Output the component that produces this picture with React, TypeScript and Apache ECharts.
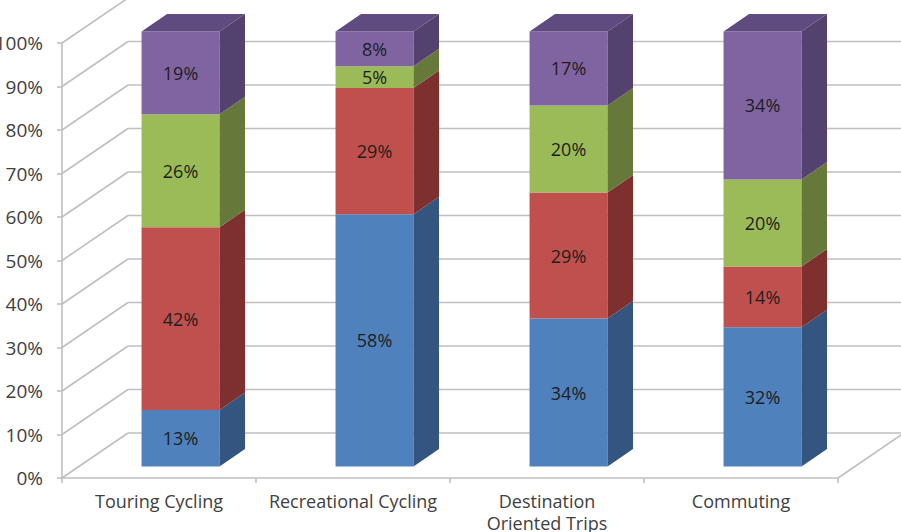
import React, { useEffect, useRef } from 'react';
import * as echarts from 'echarts';

// Trip purposes along the floor of the chart
const categories = ['Touring Cycling', 'Recreational Cycling', 'Destination\nOriented Trips', 'Commuting'];

// Share of each stack segment, bottom to top, per trip purpose (percent)
const blueShares = [13, 58, 34, 32];
const redShares = [42, 29, 29, 14];
const greenShares = [26, 5, 20, 20];
const purpleShares = [19, 8, 17, 34];

// Value-axis ticks (percent)
const yTicks = [0, 10, 20, 30, 40, 50, 60, 70, 80, 90, 100];

const segments = [
  { name: 'Blue', values: blueShares, front: '#4F81BD', side: '#34557F', top: '#3F6698' },
  { name: 'Red', values: redShares, front: '#C0504D', side: '#7D302E', top: '#9A3E3B' },
  { name: 'Green', values: greenShares, front: '#9BBB59', side: '#66793A', top: '#7D9746' },
  { name: 'Purple', values: purpleShares, front: '#8064A2', side: '#54426E', top: '#5F4B80' },
];

// 3D projection offsets (pixels)
const WALL_DX = 66;
const WALL_DY = -45;
const BAR_DX = 25.5;
const BAR_DY = -17.5;
const BAR_SHIFT_Y = -11.5;
const BAR_SHIFT_X = 0.111; // fraction of category band
const BAR_HALF = 0.201; // fraction of category band

const GRID_COLOR = '#BFBFBF';
const FONT = '"Open Sans", "Noto Sans", sans-serif';

function buildSeries(): any[] {
  const wallSeries = {
    type: 'custom',
    name: 'walls',
    z: 1,
    silent: true,
    encode: { x: 0, y: 1 },
    data: yTicks.map((v) => [0, v]),
    renderItem: (params: any, api: any) => {
      const cs = params.coordSys;
      const v = api.value(1);
      const y = api.coord([0, v])[1];
      const style = { stroke: GRID_COLOR, lineWidth: 1.6, fill: 'none' };
      const children: any[] = [
        { type: 'line', shape: { x1: cs.x, y1: y, x2: cs.x + WALL_DX, y2: y + WALL_DY }, style },
        {
          type: 'line',
          shape: { x1: cs.x + WALL_DX, y1: y + WALL_DY, x2: cs.x + cs.width + WALL_DX, y2: y + WALL_DY },
          style,
        },
      ];
      if (v === 0) {
        children.push({
          type: 'line',
          shape: { x1: cs.x + cs.width, y1: y, x2: cs.x + cs.width + WALL_DX, y2: y + WALL_DY },
          style,
        });
      }
      return { type: 'group', children };
    },
  };

  const barSeries = segments.map((seg, si) => {
    const data = categories.map((_, ci) => {
      let start = 0;
      for (let k = 0; k < si; k++) start += segments[k].values[ci];
      const val = seg.values[ci];
      const isTop = si === segments.length - 1 ? 1 : 0;
      return [ci, start, start + val, val, isTop];
    });
    return {
      type: 'custom',
      name: seg.name,
      z: 2 + si,
      encode: { x: 0, y: [1, 2] },
      data,
      renderItem: (params: any, api: any) => {
        const ci = api.value(0);
        const start = api.value(1);
        const end = api.value(2);
        const val = api.value(3);
        const isTop = api.value(4);
        const band = api.size([1, 0])[0];
        const p0 = api.coord([ci, start]);
        const p1 = api.coord([ci, end]);
        const cx = p0[0] + band * BAR_SHIFT_X;
        const half = band * BAR_HALF;
        const x0 = cx - half;
        const x1 = cx + half;
        const yb = p0[1] + BAR_SHIFT_Y;
        const yt = p1[1] + BAR_SHIFT_Y;
        const children: any[] = [
          {
            type: 'polygon',
            shape: { points: [[x0, yb], [x1, yb], [x1, yt], [x0, yt]] },
            style: { fill: seg.front },
          },
          {
            type: 'polygon',
            shape: {
              points: [[x1, yb], [x1 + BAR_DX, yb + BAR_DY], [x1 + BAR_DX, yt + BAR_DY], [x1, yt]],
            },
            style: { fill: seg.side },
          },
        ];
        if (isTop) {
          children.push({
            type: 'polygon',
            shape: {
              points: [[x0, yt], [x1, yt], [x1 + BAR_DX, yt + BAR_DY], [x0 + BAR_DX, yt + BAR_DY]],
            },
            style: { fill: seg.top },
          });
        }
        children.push({
          type: 'text',
          x: cx,
          y: (yb + yt) / 2,
          style: {
            text: val + '%',
            fill: '#1E1E1E',
            fontSize: 18,
            fontFamily: FONT,
            align: 'center',
            verticalAlign: 'middle',
          },
        });
        return { type: 'group', children };
      },
    };
  });

  return [wallSeries, ...barSeries];
}

export default function App() {
  const ref = useRef<HTMLDivElement>(null);

  useEffect(() => {
    if (!ref.current) return;
    const chart = echarts.init(ref.current, undefined, { renderer: 'svg' });
    chart.setOption({
      animation: false,
      backgroundColor: '#FFFFFF',
      grid: { left: 62, right: 63, top: 43, bottom: 54, containLabel: false, outerBoundsMode: 'none' },
      xAxis: {
        type: 'category',
        data: categories,
        boundaryGap: true,
        axisLine: { show: true, lineStyle: { color: GRID_COLOR, width: 1.6 } },
        axisTick: { show: true, alignWithLabel: false, length: 5, lineStyle: { color: GRID_COLOR, width: 1.6 } },
        axisLabel: {
          interval: 0,
          color: '#404040',
          fontSize: 18,
          fontFamily: FONT,
          margin: 12,
          lineHeight: 22,
        },
        splitLine: { show: false },
      },
      yAxis: {
        type: 'value',
        min: 0,
        max: 100,
        interval: 10,
        axisLine: { show: true, lineStyle: { color: GRID_COLOR, width: 1.6 } },
        axisTick: { show: true, length: 5, lineStyle: { color: GRID_COLOR, width: 1.6 } },
        axisLabel: {
          formatter: '{value}%',
          color: '#404040',
          fontSize: 19,
          fontFamily: FONT,
          margin: 19,
        },
        splitLine: { show: false },
      },
      series: buildSeries(),
    });
    return () => chart.dispose();
  }, []);

  return (
    <div
      ref={ref}
      style={{ position: 'fixed', left: 0, top: 0, width: 901, height: 532, background: '#FFFFFF' }}
    />
  );
}
